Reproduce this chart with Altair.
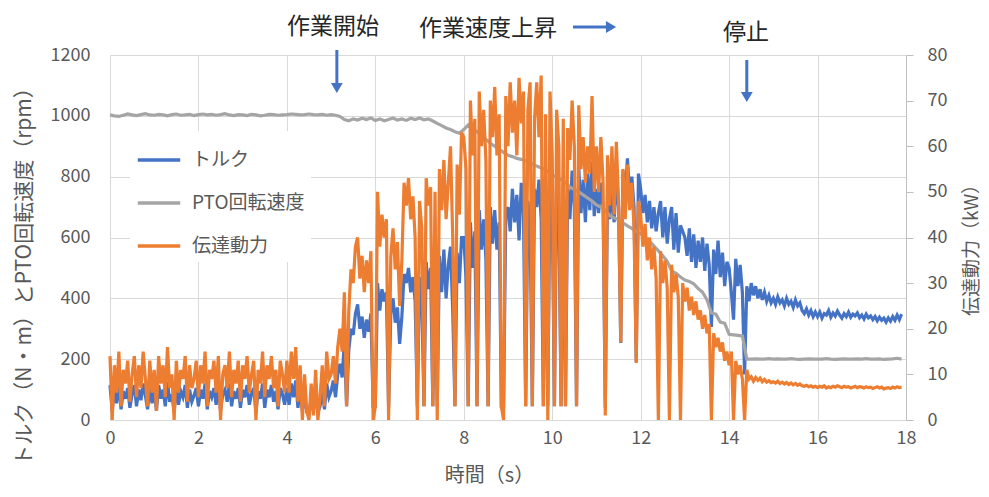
import altair as alt
import pandas as pd

FONT = "Noto Sans CJK JP"
NAMES = ["トルク", "PTO回転速度", "伝達動力"]
COLORS = ["#4472C4", "#A5A5A5", "#ED7D31"]

# sampling steps (s)
STEP_FAST = 0.05
STEP_GRAY = 0.1

# 伝達動力 (kW), one row per second
o0 = [14, 0, 12, 6, 15, 3, 11, 8, 13, 4, 10, 14, 5, 12, 7, 15, 9, 3, 13, 6]
o1 = [11, 2, 14, 8, 12, 5, 16, 7, 10, 0, 13, 6, 11, 9, 14, 4, 12, 7, 9, 13]
o2 = [5, 12, 8, 15, 3, 11, 9, 13, 6, 14, 0, 10, 12, 7, 15, 5, 11, 8, 13, 4]
o3 = [12, 9, 14, 6, 10, 13, 0, 11, 8, 15, 5, 12, 9, 14, 7, 11, 3, 13, 10, 6]
o4 = [13, 6, 15, 9, 16, 4, 12, 0, 10, 2, 0, 8, 1, 11, 0, 5, 12, 3, 15, 9]
o5 = [10, 14, 8, 16, 20, 15, 28, 3, 24, 33, 30, 38, 40, 31, 36, 28, 35, 30, 37, 0]
o6 = [3, 50, 38, 45, 40, 44, 0, 36, 42, 33, 39, 25, 35, 52, 47, 53, 44, 49, 40, 0]
o7 = [48, 42, 3, 53, 47, 51, 3, 50, 0, 55, 46, 57, 44, 52, 60, 40, 3, 56, 45, 63]
o8 = [62, 55, 3, 70, 58, 66, 3, 72, 60, 68, 57, 3, 70, 62, 73, 58, 67, 3, 0, 71]
o9 = [60, 74, 63, 70, 58, 75, 65, 72, 3, 68, 74, 3, 66, 74, 62, 75.5, 3, 67, 0, 72]
o10 = [58, 3, 68, 60, 3, 66, 3, 64, 57, 70, 60, 3, 69, 55, 62, 52, 60, 54, 71, 50]
o11 = [60, 50, 62, 52, 1, 58, 47, 60, 45, 61, 48, 17, 55, 44, 56, 46, 52, 42, 12.5, 48]
o12 = [45, 38, 43, 35, 40, 33, 38, 31, 0, 37, 30, 35, 29, 0, 34, 28, 32, 27, 0, 30]
o13 = [26, 29, 24, 27, 23, 26, 22, 24, 20, 23, 19, 21, 0, 19, 16, 18, 15, 17, 13, 15]
o14 = [12, 15, 0, 13, 10, 12, 9, 0, 11, 9, 9.5, 8.5, 9.3, 8.7, 9.2, 8.4, 8.9, 8.3, 8.6, 8.2]
o15 = [8.4, 8.1, 8.5, 8.0, 8.3, 7.9, 8.2, 7.8, 8.1, 7.7, 8.0, 7.6, 7.9, 7.5, 7.4, 7.6, 7.3, 7.5, 7.2, 7.4]
o16 = [7.1, 7.4, 7.2, 7.5, 7.0, 7.3, 7.1, 7.4, 7.2, 7.5, 7.3, 7.1, 7.4, 7.2, 7.3, 7.0, 7.2, 7.4, 7.1, 7.3]
o17 = [7.2, 7.0, 7.3, 7.1, 7.2, 6.9, 7.1, 7.3, 7.0, 7.2, 6.8, 7.0, 7.1, 6.9, 7.2, 7.0, 7.3, 7.1, 7.2]

# トルク (N・m)
b0 = [115, 30, 100, 55, 120, 35, 95, 70, 105, 40, 85, 115, 45, 100, 65, 120, 80, 35, 110, 55]
b1 = [95, 30, 115, 70, 100, 45, 125, 60, 85, 25, 110, 50, 95, 75, 115, 40, 100, 60, 80, 105]
b2 = [45, 100, 70, 120, 35, 95, 75, 105, 50, 115, 30, 85, 100, 60, 120, 45, 95, 70, 105, 40]
b3 = [100, 75, 115, 50, 85, 105, 25, 95, 70, 120, 40, 100, 75, 115, 60, 95, 35, 105, 85, 50]
b4 = [105, 50, 120, 75, 130, 40, 100, 30, 85, 25, 20, 70, 30, 95, 25, 45, 100, 35, 120, 75]
b5 = [95, 130, 75, 150, 185, 140, 260, 45, 230, 300, 280, 350, 380, 300, 340, 270, 330, 290, 350, 45]
b6 = [45, 450, 360, 430, 390, 420, 40, 350, 400, 320, 370, 250, 340, 480, 450, 500, 420, 470, 390, 45]
b7 = [470, 400, 45, 520, 430, 500, 45, 480, 45, 540, 420, 560, 400, 510, 570, 360, 45, 550, 450, 600]
b8 = [600, 470, 45, 650, 500, 620, 45, 690, 560, 660, 530, 45, 700, 580, 690, 560, 650, 45, 45, 680]
b9 = [700, 620, 760, 650, 740, 590, 780, 680, 45, 720, 640, 45, 760, 700, 790, 660, 45, 740, 45, 770]
b10 = [700, 45, 800, 680, 45, 780, 45, 760, 660, 820, 700, 45, 830, 680, 790, 650, 810, 690, 850, 670]
b11 = [760, 680, 780, 700, 40, 740, 660, 770, 650, 800, 700, 253, 820, 720, 860, 740, 800, 700, 190, 810]
b12 = [760, 680, 740, 650, 720, 630, 700, 620, 680, 720, 600, 700, 580, 660, 700, 560, 680, 550, 640, 620]
b13 = [600, 540, 630, 520, 610, 500, 590, 520, 600, 490, 580, 510, 306, 560, 480, 590, 470, 550, 440, 520]
b14 = [500, 420, 330, 530, 440, 510, 420, 150, 440, 390, 450, 410, 440, 400, 430, 395, 420, 390, 410, 385]
b15 = [400, 380, 405, 385, 395, 375, 400, 380, 390, 370, 395, 375, 385, 360, 350, 365, 345, 360, 340, 355]
b16 = [340, 355, 335, 350, 345, 360, 338, 352, 342, 358, 345, 335, 350, 340, 355, 338, 348, 342, 352, 336]
b17 = [345, 332, 348, 336, 342, 330, 340, 326, 338, 328, 335, 322, 336, 325, 340, 328, 345, 330, 348]

# PTO回転速度 (rpm), 0.1 s steps
g0 = [1003, 1000, 998, 1002, 1006, 1003, 1001, 1004, 1007, 1003]
g1 = [1002, 1005, 1003, 1000, 1004, 1006, 1002, 1003, 1005, 1001]
g2 = [1004, 1006, 1003, 1005, 1002, 1004, 1007, 1003, 1001, 1004]
g3 = [1003, 1001, 1005, 1003, 1000, 1002, 1005, 1004, 1002, 1003]
g4 = [1004, 1006, 1005, 1003, 1004, 1006, 1004, 1003, 1005, 1002]
g5 = [1004, 1002, 998, 988, 984, 990, 986, 992, 988, 993]
g6 = [985, 990, 984, 988, 993, 986, 990, 985, 992, 988]
g7 = [993, 987, 990, 983, 975, 968, 960, 955, 948, 943]
g8 = [955, 970, 960, 948, 935, 922, 910, 900, 890, 880]
g9 = [870, 866, 860, 857, 852, 845, 838, 832, 826, 818]
g10 = [805, 798, 790, 782, 765, 758, 750, 740, 730, 720]
g11 = [707, 700, 690, 672, 665, 658, 648, 638, 630, 620]
g12 = [612, 600, 588, 572, 556, 540, 522, 490, 482, 470]
g13 = [460, 455, 448, 432, 420, 395, 352, 348, 322, 318]
g14 = [282, 280, 278, 276, 200, 200, 201, 200, 200, 202]
g15 = [200, 201, 200, 200, 202, 200, 199, 200, 201, 200]
g16 = [200, 200, 202, 200, 199, 200, 201, 200, 200, 201]
g17 = [200, 202, 200, 200, 201, 199, 200, 201, 203, 200]

# annotations (time positions in s)
ANN_START_T = 5.13
ANN_STOP_T = 14.40
ANN_SPEED_T = [10.47, 11.24]
ANN_SPEED_HEAD_T = 11.33

orange_vals = o0 + o1 + o2 + o3 + o4 + o5 + o6 + o7 + o8 + o9 + o10 + o11 + o12 + o13 + o14 + o15 + o16 + o17
blue_vals = b0 + b1 + b2 + b3 + b4 + b5 + b6 + b7 + b8 + b9 + b10 + b11 + b12 + b13 + b14 + b15 + b16 + b17
gray_vals = g0 + g1 + g2 + g3 + g4 + g5 + g6 + g7 + g8 + g9 + g10 + g11 + g12 + g13 + g14 + g15 + g16 + g17


def frame(vals, step, name):
    return pd.DataFrame({"t": [round(i * step, 3) for i in range(len(vals))], "v": vals, "s": name})


df_b = frame(blue_vals, STEP_FAST, NAMES[0])
df_g = frame(gray_vals, STEP_GRAY, NAMES[1])
df_o = frame(orange_vals, STEP_FAST, NAMES[2])

LABEL_C = "#595959"
GRID_C = "#d9d9d9"
LW = 3.2

xscale = alt.Scale(domain=[0, 18], nice=False, zero=False)
x_axis = alt.Axis(values=list(range(0, 19, 2)), format="d", title="時間（s）", grid=True, gridColor=GRID_C,
                  domainColor=GRID_C, ticks=False, labelPadding=9, labelFontSize=18, labelFlush=False,
                  labelColor=LABEL_C, titleFontSize=20, titleColor=LABEL_C, titleFontWeight="normal",
                  titleX=379, titleY=55, titleBaseline="middle")
x_enc = alt.X("t:Q", scale=xscale, axis=x_axis)

left_scale = alt.Scale(domain=[0, 1200], nice=False)
left_axis = alt.Axis(values=list(range(0, 1201, 200)), format="d", title="トルク（N・m）とPTO回転速度（rpm）",
                     grid=True, gridColor=GRID_C, domainColor=GRID_C, ticks=False, labelPadding=20,
                     labelFontSize=18, labelColor=LABEL_C, labelFlush=False, titleFontSize=21,
                     titleColor=LABEL_C, titleFontWeight="normal", titleAngle=270, titleX=-86, titleY=216,
                     titleBaseline="middle", titleAlign="center")
right_axis = alt.Axis(orient="right", values=list(range(0, 81, 10)), format="d", title="伝達動力（kW）",
                      grid=False, domainColor="#bfbfbf", tickColor="#bfbfbf", tickSize=7, labelPadding=14,
                      labelFontSize=18, labelColor=LABEL_C, labelFlush=False, titleFontSize=19,
                      titleColor=LABEL_C, titleFontWeight="normal", titleAngle=270, titleX=65, titleY=190,
                      titleBaseline="middle", titleAlign="center")

color = alt.Color("s:N", scale=alt.Scale(domain=NAMES, range=COLORS),
                  legend=alt.Legend(title=None, orient="none", legendX=20, legendY=76, direction="vertical",
                                    symbolType="stroke", symbolSize=1800, symbolStrokeWidth=3.5,
                                    labelFontSize=19, labelColor=LABEL_C, rowPadding=10, labelOffset=10,
                                    fillColor="white", padding=6))

blue = alt.Chart(df_b).mark_line(strokeWidth=LW).encode(
    x=x_enc, y=alt.Y("v:Q", scale=left_scale, axis=left_axis), color=color)
gray = alt.Chart(df_g).mark_line(strokeWidth=LW).encode(
    x=x_enc, y=alt.Y("v:Q", scale=left_scale, axis=left_axis), color=color)
orange = alt.Chart(df_o).mark_line(strokeWidth=LW).encode(
    x=x_enc, y=alt.Y("v:Q", scale=alt.Scale(domain=[0, 80], nice=False), axis=right_axis), color=color)

ARROW_C = "#4472C4"
TEXT_C = "#262626"


def label(t, text, ypix):
    return alt.Chart(pd.DataFrame({"t": [t], "label": [text]})).mark_text(
        fontSize=23, color=TEXT_C, font=FONT, baseline="middle", align="center").encode(
        x=x_enc, y=alt.value(ypix), text="label:N")


def down_arrow(t, y0, y1):
    d = pd.DataFrame({"t": [t]})
    shaft = alt.Chart(d).mark_rule(color=ARROW_C, strokeWidth=3).encode(
        x=x_enc, y=alt.value(y0), y2=alt.value(y1 - 4))
    head = alt.Chart(d).mark_point(shape="triangle-down", filled=True, size=140, color=ARROW_C,
                                   opacity=1).encode(x=x_enc, y=alt.value(y1))
    return shaft + head


speed_df = pd.DataFrame({"t": [ANN_SPEED_T[0]], "t2": [ANN_SPEED_T[1]]})
speed_shaft = alt.Chart(speed_df).mark_rule(color=ARROW_C, strokeWidth=3).encode(
    x=x_enc, x2="t2:Q", y=alt.value(-28))
speed_head = alt.Chart(pd.DataFrame({"t": [ANN_SPEED_HEAD_T]})).mark_point(
    shape="triangle-right", filled=True, size=140, color=ARROW_C, opacity=1).encode(
    x=x_enc, y=alt.value(-28))

left = alt.layer(blue, gray)
chart = alt.layer(
    left, orange,
    label(5.04, "作業開始", -28), label(8.55, "作業速度上昇", -26), label(14.38, "停止", -22),
    down_arrow(ANN_START_T, -5, 33), down_arrow(ANN_STOP_T, 5, 42),
    speed_shaft, speed_head,
).resolve_scale(y="independent").properties(
    width=796, height=365,
    autosize=alt.AutoSizeParams(type="none"),
    padding={"left": 102, "top": 47, "right": 75, "bottom": 69},
).configure(font=FONT).configure_view(strokeWidth=0).configure_axis(
    labelFont=FONT, titleFont=FONT).configure_legend(labelFont=FONT)

chart.save("out.html", embed_options={"renderer": "svg", "actions": False})
